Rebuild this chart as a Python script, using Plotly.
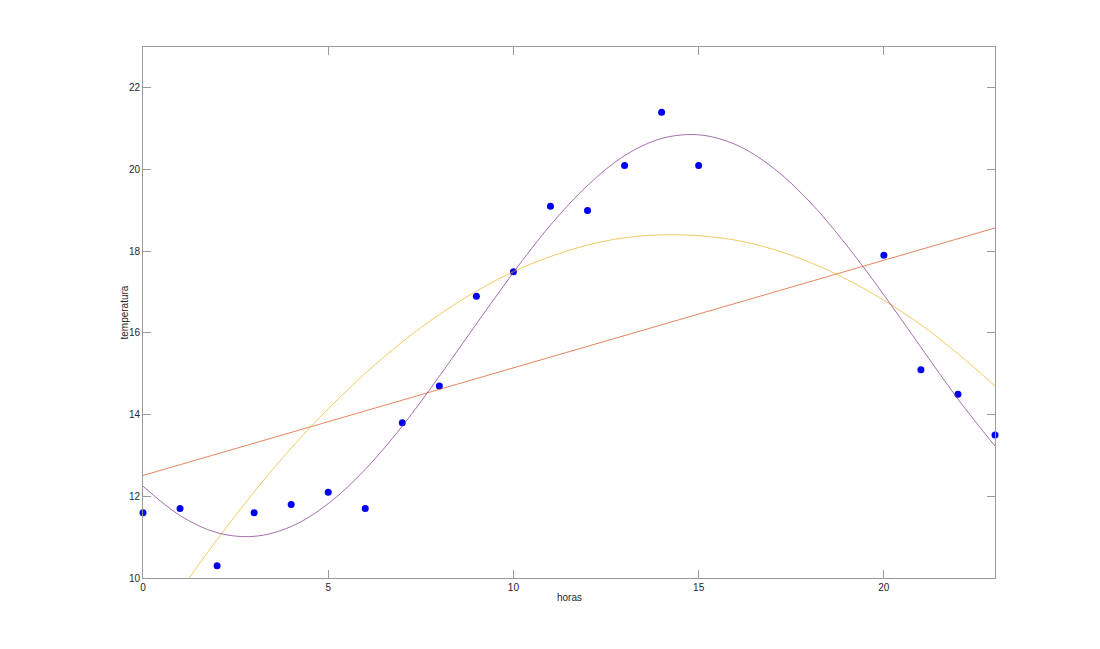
import plotly.graph_objects as go

# measured data
horas = [0, 1, 2, 3, 4, 5, 6, 7, 8, 9, 10, 11, 12, 13, 14, 15, 20, 21, 22, 23]
temperatura = [11.6, 11.7, 10.3, 11.6, 11.8, 12.1, 11.7, 13.8, 14.7, 16.9, 17.5,
               19.1, 19.0, 20.1, 21.4, 20.1, 17.9, 15.1, 14.5, 13.5]

# fitted curves, values read at each hour
horas_ajuste = list(range(0, 24))
ajuste_lineal_x = [0, 23]
ajuste_lineal = [12.51, 18.57]
ajuste_cuadratico = [8.32, 9.68, 10.94, 12.11, 13.18, 14.14, 15.01, 15.78, 16.45, 17.02,
                     17.50, 17.87, 18.15, 18.33, 18.40, 18.38, 18.27, 18.05, 17.73, 17.31,
                     16.80, 16.20, 15.49, 14.70]
ajuste_senoidal = [12.25, 11.53, 11.11, 11.02, 11.26, 11.82, 12.66, 13.72, 14.94, 16.22,
                   17.48, 18.64, 19.61, 20.34, 20.76, 20.85, 20.61, 20.05, 19.21, 18.14,
                   16.93, 15.65, 14.38, 13.23]

x_ticks = [0, 5, 10, 15, 20]
y_ticks = [10, 12, 14, 16, 18, 20, 22]

FONT = "Liberation Sans, Arial, Helvetica, sans-serif"

fig = go.Figure()
fig.add_trace(go.Scatter(x=horas, y=temperatura, mode="markers",
                         marker=dict(color="#0000f0", size=7, line=dict(width=0)),
                         cliponaxis=False))
fig.add_trace(go.Scatter(x=ajuste_lineal_x, y=ajuste_lineal, mode="lines",
                         line=dict(color="#D95319", width=0.7)))
fig.add_trace(go.Scatter(x=horas_ajuste, y=ajuste_cuadratico, mode="lines",
                         line=dict(color="#EDB120", width=0.7, shape="spline")))
fig.add_trace(go.Scatter(x=horas_ajuste, y=ajuste_senoidal, mode="lines",
                         line=dict(color="#7E2F8E", width=0.7, shape="spline")))

axis_common = dict(showgrid=False, zeroline=False, showline=True, linecolor="#9a9a9a",
                   linewidth=1, mirror="ticks", ticks="inside", ticklen=8, tickwidth=1,
                   tickcolor="#9a9a9a", tickfont=dict(family=FONT, size=10, color="#262626"))
fig.update_xaxes(range=[0, 23], tickvals=x_ticks, **axis_common)
fig.update_yaxes(range=[10, 23], tickvals=y_ticks, **axis_common)

fig.add_annotation(text="horas", x=0.5, y=0, xref="paper", yref="paper", showarrow=False,
                   yanchor="middle", yshift=-19, font=dict(family=FONT, size=10, color="#262626"))
fig.add_annotation(text="temperatura", x=0, y=0.5, xref="paper", yref="paper", showarrow=False,
                   textangle=-90, xanchor="center", xshift=-19,
                   font=dict(family=FONT, size=10, color="#262626"))

fig.update_layout(width=1100, height=649, margin=dict(l=135, r=113, t=39, b=79),
                  showlegend=False, plot_bgcolor="white", paper_bgcolor="white",
                  font=dict(family=FONT))
fig.write_html("out.html")
